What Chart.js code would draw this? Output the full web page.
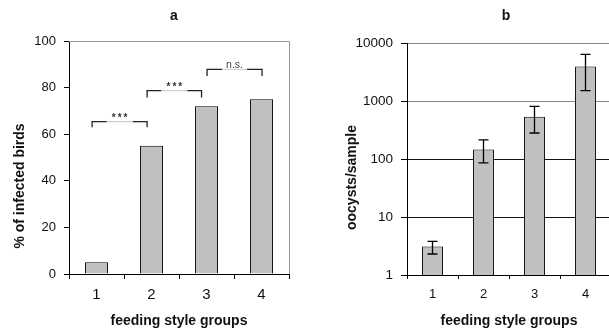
<!DOCTYPE html>
<html><head><meta charset="utf-8">
<script src="https://cdn.jsdelivr.net/npm/chart.js@4.4.0/dist/chart.umd.min.js"></script>
<style>
html,body{margin:0;padding:0;background:#fff;overflow:hidden;width:609px;height:332px;}
#wrap{position:relative;width:609px;height:332px;overflow:hidden;}
canvas{position:absolute;top:0;}
#ca{left:0;width:300px;height:332px;}
#cb{left:300px;width:320px;height:332px;}
</style></head><body>
<div id="wrap"><canvas id="ca" width="300" height="332"></canvas><canvas id="cb" width="320" height="332"></canvas></div>
<script>
// ---- data ----
const categories = ['1', '2', '3', '4'];
const infectedPercent = [5, 55, 72, 75];
const yTicksA = [0, 20, 40, 60, 80, 100];
const oocystsMean = [3.1, 146, 536, 3950];
const oocystsLow = [2.3, 86, 281, 1505];
const oocystsHigh = [3.8, 213, 807, 6360];
const yTicksB = [1, 10, 100, 1000, 10000];
const bracketFrom = [-0.08, 0.92, 2.01];
const bracketTo = [0.92, 1.91, 3.01];
const bracketLevel = [65.4, 78.7, 87.8];
const bracketFoot = [63, 75.8, 85];
const bracketLabel = ['***', '***', 'n.s.'];

const FAM = "'Liberation Sans', Arial, sans-serif";
const INK = '#111';

const bracketPlugin = {
  id: 'brackets',
  afterDatasetsDraw(chart) {
    const {ctx, chartArea, scales: {x, y}} = chart;
    ctx.save();
    // frame (top and right)
    ctx.strokeStyle = '#999';
    ctx.lineWidth = 1;
    ctx.beginPath();
    ctx.moveTo(chartArea.left, Math.round(chartArea.top) + 0.5);
    ctx.lineTo(Math.round(chartArea.right) + 0.5, Math.round(chartArea.top) + 0.5);
    ctx.lineTo(Math.round(chartArea.right) + 0.5, chartArea.bottom);
    ctx.stroke();
    for (let i = 0; i < bracketLabel.length; i++) {
      const x1 = x.getPixelForValue(bracketFrom[i]);
      const x2 = x.getPixelForValue(bracketTo[i]);
      const yl = y.getPixelForValue(bracketLevel[i]);
      const yf = y.getPixelForValue(bracketFoot[i]);
      const isStar = bracketLabel[i] === '***';
      ctx.font = isStar ? `bold 10px ${FAM}` : `10.5px ${FAM}`;
      ctx.letterSpacing = isStar ? '2px' : '0px';
      const tw = ctx.measureText(bracketLabel[i]).width;
      const mid = (x1 + x2) / 2;
      const g1 = mid - tw / 2 - 4, g2 = mid + tw / 2 + 4;
      ctx.lineWidth = 1.3;
      ctx.strokeStyle = '#222';
      ctx.beginPath();
      ctx.moveTo(x1, yf); ctx.lineTo(x1, yl); ctx.lineTo(g1, yl);
      ctx.moveTo(g2, yl); ctx.lineTo(x2, yl); ctx.lineTo(x2, yf);
      ctx.stroke();
      ctx.strokeStyle = '#d0d0d0';
      ctx.beginPath();
      ctx.moveTo(g1, yl); ctx.lineTo(g2, yl);
      ctx.stroke();
      ctx.fillStyle = isStar ? '#333' : '#444';
      ctx.textAlign = 'center';
      ctx.textBaseline = 'alphabetic';
      ctx.fillText(bracketLabel[i], mid + (isStar ? 1 : 0), yl - (isStar ? 0.5 : 1.5));
    }
    ctx.restore();
  }
};

const errorBarPlugin = {
  id: 'errbars',
  afterDatasetsDraw(chart) {
    const {ctx, scales: {y}} = chart;
    const meta = chart.getDatasetMeta(0);
    ctx.save();
    ctx.strokeStyle = '#000';
    ctx.lineWidth = 1.3;
    meta.data.forEach((bar, i) => {
      const xc = bar.x;
      const yh = y.getPixelForValue(oocystsHigh[i]);
      const ylo = y.getPixelForValue(oocystsLow[i]);
      ctx.beginPath();
      ctx.moveTo(xc, yh); ctx.lineTo(xc, ylo);
      ctx.moveTo(xc - 5, yh); ctx.lineTo(xc + 5, yh);
      ctx.moveTo(xc - 5, ylo); ctx.lineTo(xc + 5, ylo);
      ctx.stroke();
    });
    ctx.restore();
  }
};

function textPlugin(title, tx, ty, ytitle, yx, yy) {
  return {
    id: 'texts',
    afterDraw(chart) {
      const ctx = chart.ctx;
      ctx.save();
      ctx.fillStyle = INK;
      ctx.font = `bold 14px ${FAM}`;
      ctx.textAlign = 'center';
      ctx.textBaseline = 'alphabetic';
      ctx.fillText(title, tx, ty);
      ctx.translate(yx, yy);
      ctx.rotate(-Math.PI / 2);
      ctx.textBaseline = 'middle';
      ctx.fillText(ytitle, 0, 0);
      ctx.restore();
    }
  };
}

Chart.defaults.font.family = FAM;
Chart.defaults.color = INK;

new Chart(document.getElementById('ca'), {
  type: 'bar',
  data: {
    labels: categories,
    datasets: [{
      data: infectedPercent,
      backgroundColor: '#c0c0c0',
      borderColor: '#000',
      borderWidth: 1,
      barPercentage: 0.42,
      categoryPercentage: 1
    }]
  },
  options: {
    responsive: false,
    animation: false,
    devicePixelRatio: 1,
    layout: {padding: {top: 41, right: 11, left: 0, bottom: 0}},
    plugins: {legend: {display: false}, tooltip: {enabled: false}, title: {display: false}},
    scales: {
      x: {
        grid: {drawOnChartArea: false, drawTicks: true, tickLength: 5, color: '#000', offset: true},
        border: {display: true, color: '#000', width: 1},
        ticks: {color: INK, font: {size: 15}, padding: 7},
        title: {display: true, text: 'feeding style groups', color: INK, font: {size: 14, weight: 'bold'}, padding: {top: 0, bottom: 2}},
        afterFit: s => { s.height = 58; }
      },
      y: {
        min: 0, max: 100,
        afterBuildTicks: s => { s.ticks = yTicksA.map(v => ({value: v})); },
        grid: {drawOnChartArea: false, drawTicks: true, tickLength: 5, color: '#000'},
        border: {display: true, color: '#000', width: 1},
        ticks: {color: INK, font: {size: 13}, padding: 8, callback: v => String(v)},
        afterFit: s => { s.width = 69; }
      }
    }
  },
  plugins: [bracketPlugin, textPlugin('a', 174, 20, '% of infected birds', 20.5, 186)]
});

new Chart(document.getElementById('cb'), {
  type: 'bar',
  data: {
    labels: categories,
    datasets: [{
      data: oocystsMean,
      backgroundColor: '#c0c0c0',
      borderColor: '#000',
      borderWidth: 1,
      barPercentage: 0.41,
      categoryPercentage: 1
    }]
  },
  options: {
    responsive: false,
    animation: false,
    devicePixelRatio: 1,
    layout: {padding: {top: 43, right: 9, left: 0, bottom: 0}},
    plugins: {legend: {display: false}, tooltip: {enabled: false}, title: {display: false}},
    scales: {
      x: {
        grid: {drawOnChartArea: false, drawTicks: true, tickLength: 4, color: '#000', offset: true},
        border: {display: true, color: '#000', width: 1},
        ticks: {color: INK, font: {size: 13}, padding: 8},
        title: {display: true, text: 'feeding style groups', color: INK, font: {size: 14, weight: 'bold'}, padding: {top: 0, bottom: 2}},
        afterFit: s => { s.height = 57; }
      },
      y: {
        type: 'logarithmic',
        min: 1, max: 10000,
        afterBuildTicks: s => { s.ticks = yTicksB.map(v => ({value: v})); },
        grid: {
          drawOnChartArea: true, drawTicks: true, tickLength: 6,
          color: c => (c.tick && c.tick.value >= 1000 ? '#8a8a8a' : '#111'),
          tickColor: '#000'
        },
        border: {display: true, color: '#000', width: 1},
        ticks: {color: INK, font: {size: 13.5}, padding: 8, callback: v => String(v)},
        afterFit: s => { s.width = 107; }
      }
    }
  },
  plugins: [errorBarPlugin, textPlugin('b', 206, 20, 'oocysts/sample', 51.7, 177.5)]
});
</script>
</body></html>
